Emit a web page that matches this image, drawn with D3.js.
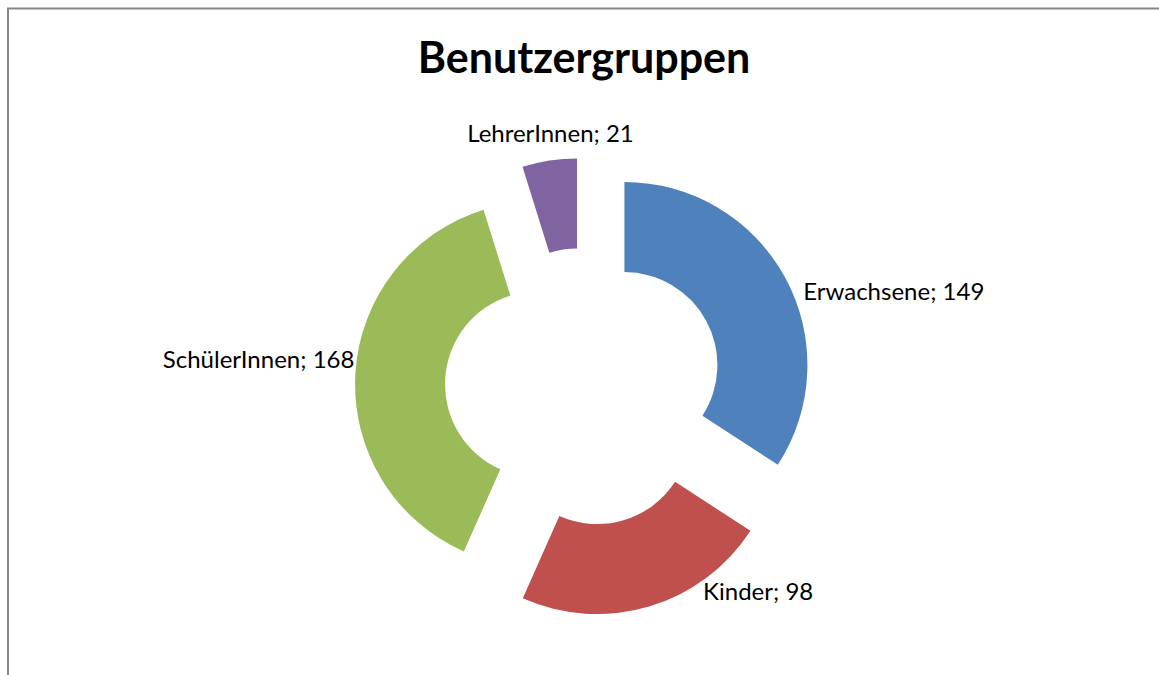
<html>
<head>
<meta charset="utf-8">
<title>Benutzergruppen</title>
<script src="https://cdn.jsdelivr.net/npm/d3@7"></script>
<style>
  body { margin: 0; background: #fff; }
  text { font-family: Lato, "Open Sans", sans-serif; fill: #000; }
</style>
</head>
<body>
<script>
// chart data
var categories = ["Erwachsene", "Kinder", "SchülerInnen", "LehrerInnen"];
var values = [149, 98, 168, 21];
var colors = ["#4F81BD", "#C0504D", "#9BBB59", "#8064A2"];
// small nudges of the data labels away from the slice tip (dx, dy, anchor)
var labelNudge = [[18, 22, "start"], [54, -7, "start"], [-1, -6, "end"], [1, -19, "middle"]];

var width = 1159, height = 675;
var cx = 584, cy = 387;
var outerR = 183, innerR = 93, explode = 46;

var svg = d3.select("body").append("svg")
    .attr("width", width)
    .attr("height", height);

// chart frame (only left and top edge fall inside the picture)
svg.append("rect")
    .attr("x", 8).attr("y", 8.5)
    .attr("width", 1200).attr("height", 700)
    .attr("fill", "none")
    .attr("stroke", "#868686")
    .attr("stroke-width", 2);

svg.append("text")
    .attr("x", cx)
    .attr("y", 73)
    .attr("text-anchor", "middle")
    .style("font-weight", "bold")
    .style("font-size", "43px")
    .text("Benutzergruppen");

var pie = d3.pie().sort(null).value(function(d) { return d; });
var arcs = pie(values);

var arc = d3.arc().innerRadius(innerR).outerRadius(outerR);

var g = svg.append("g").attr("transform", "translate(" + cx + "," + cy + ")");

function shift(d, r) {
    var a = (d.startAngle + d.endAngle) / 2;
    return [Math.sin(a) * r, -Math.cos(a) * r];
}

g.selectAll("path")
    .data(arcs)
    .enter().append("path")
    .attr("d", arc)
    .attr("fill", function(d, i) { return colors[i]; })
    .attr("transform", function(d) {
        var s = shift(d, explode);
        return "translate(" + s[0] + "," + s[1] + ")";
    });

g.selectAll("text.lbl")
    .data(arcs)
    .enter().append("text")
    .attr("class", "lbl")
    .attr("x", function(d, i) { return shift(d, explode + outerR)[0] + labelNudge[i][0]; })
    .attr("y", function(d, i) { return shift(d, explode + outerR)[1] + labelNudge[i][1]; })
    .attr("text-anchor", function(d, i) { return labelNudge[i][2]; })
    .style("font-size", "24px")
    .text(function(d, i) { return categories[i] + "; " + values[i]; });
</script>
</body>
</html>
